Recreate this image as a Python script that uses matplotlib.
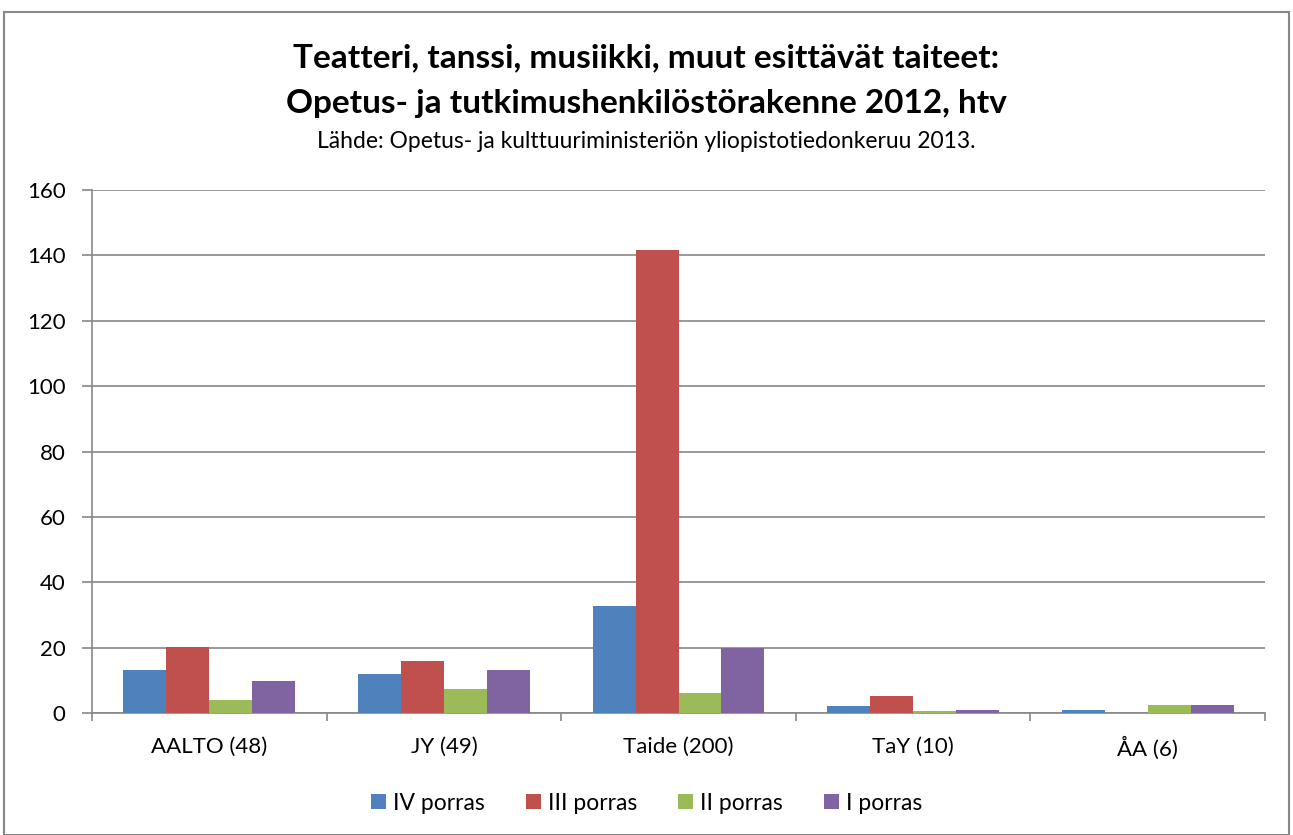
import matplotlib
matplotlib.use("Agg")
import matplotlib.pyplot as plt
import numpy as np
from matplotlib.patches import Rectangle

categories = ["AALTO (48)", "JY (49)", "Taide (200)", "TaY (10)", "ÅA (6)"]
series_names = ["IV porras", "III porras", "II porras", "I porras"]
iv = [13.2, 11.9, 32.6, 2.0, 0.8]
iii = [20.2, 15.8, 141.5, 5.3, 0.0]
ii = [4.0, 7.4, 6.1, 0.5, 2.3]
i_ = [9.7, 13.1, 19.9, 0.8, 2.3]
colors = ["#4F81BD", "#C0504D", "#9BBB59", "#8064A2"]
yticks = [0, 20, 40, 60, 80, 100, 120, 140, 160]

plt.rcParams['font.family'] = ['Lato', 'DejaVu Sans']

W, H = 1293, 835
fig = plt.figure(figsize=(W/100, H/100), dpi=100)
ax = fig.add_axes([92/W, 1-713/H, (1265-92)/W, (713-190)/H])

x = np.arange(len(categories))
bw = 0.183
for k, (vals, name, c) in enumerate(zip([iv, iii, ii, i_], series_names, colors)):
    ax.bar(x + (k-1.5)*bw, vals, width=bw, color=c, label=name, zorder=3)

ax.set_xlim(-0.5, len(categories)-0.5)
ax.set_ylim(0, 160)
ax.set_yticks(yticks)
ax.set_yticklabels([str(t) for t in yticks], fontsize=16)
ax.yaxis.grid(True, color="#888888", linewidth=1.2, zorder=0)
ax.set_xticks(np.arange(-0.5, len(categories)), minor=False)
ax.set_xticklabels([])
ax.set_xticks(x, minor=True)
ax.set_xticklabels(categories, minor=True, fontsize=16)
ax.tick_params(axis='x', which='minor', length=0, pad=17)
ax.tick_params(axis='x', which='major', length=5.5, color="#888888", width=1.2)
ax.tick_params(axis='y', length=7, color="#888888", width=1.2, pad=12)
for s in ['top', 'right']:
    ax.spines[s].set_visible(False)
for s in ['left', 'bottom']:
    ax.spines[s].set_color("#888888")
    ax.spines[s].set_linewidth(1.2)

fig.text(0.5, 1-58/H, "Teatteri, tanssi, musiikki, muut esittävät taiteet:", ha='center', va='center',
         fontsize=24, fontweight='bold')
fig.text(0.5, 1-103/H, "Opetus- ja tutkimushenkilöstörakenne 2012, htv", ha='center', va='center',
         fontsize=24, fontweight='bold')
fig.text(0.5, 1-142/H, "Lähde: Opetus- ja kulttuuriministeriön yliopistotiedonkeruu 2013.", ha='center', va='center',
         fontsize=16.5)

leg = fig.legend(loc='center', bbox_to_anchor=(0.5, 1-803/H), ncol=4, frameon=False, fontsize=16.5,
                 handlelength=0.65, handleheight=0.65, handletextpad=0.3, columnspacing=1.8)

fig.patches.append(Rectangle((4/W, 0), (1289-4)/W, 1-12/H, transform=fig.transFigure,
                             fill=False, edgecolor="#888888", linewidth=1.5))

fig.savefig("out.png", dpi=100)
